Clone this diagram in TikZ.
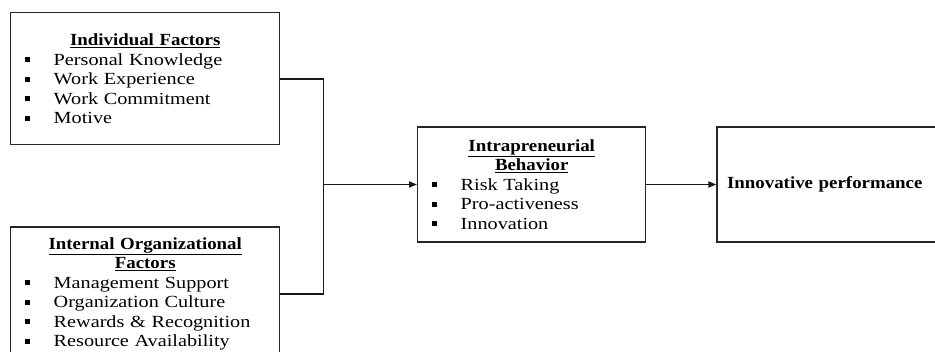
\documentclass[tikz,border=0pt]{standalone}
\usepackage{fontspec}
\setmainfont{Liberation Serif}[FakeStretch=1.19, BoldFeatures={FakeStretch=1.11}]
\usetikzlibrary{arrows.meta, positioning}

\newcommand{\bul}{\raisebox{3pt}{\rule{5pt}{5pt}}}
\newcommand{\itm}[1]{\makebox[\linewidth][l]{\makebox[43pt][l]{\hspace{14pt}\bul}#1}}
\newcommand{\hd}[1]{\underline{\textbf{#1}}}

\begin{document}
\begin{tikzpicture}[x=1pt, y=-1pt,
    box/.style={draw=black!85, line width=1.4pt, inner xsep=0pt, inner ysep=0pt,
                align=center, font=\fontsize{17pt}{19.5pt}\selectfont, text=black},
    line/.style={draw=black!90, line width=1.7pt},
    arr/.style={line, -{Triangle[length=8pt, width=6pt]}}
  ]
  \useasboundingbox (0,0) rectangle (935,351);

  \node[box, anchor=north west, text width=269pt, minimum height=132pt] (indiv) at (10,12)
    {\hd{Individual Factors}\\ \itm{Personal Knowledge}\\ \itm{Work Experience}\\
     \itm{Work Commitment}\\ \itm{Motive}};
  \node[box, below=81pt of indiv, text width=269pt, minimum height=134pt] (orgf)
    {\hd{Internal Organizational}\\ \hd{Factors}\\ \itm{Management Support}\\
     \itm{Organization Culture}\\ \itm{Rewards \& Recognition}\\ \itm{Resource Availability}};
  \node[box, anchor=west, text width=228pt, minimum height=115pt] (behav) at (417,184.5)
    {\hd{Intrapreneurial}\\ \hd{Behavior}\\ \itm{Risk Taking}\\ \itm{Pro-activeness}\\ \itm{Innovation}};
  \node[box, right=70pt of behav, text width=230pt, inner xsep=10pt, align=left,
        minimum height=115pt] (perf) {\textbf{Innovative performance}};

  % joining the two factor boxes
  \path (indiv.east) ++(43,0) coordinate (jt);
  \coordinate (jn) at (jt |- behav.west);
  \draw[line] (indiv.east) -- (jt) |- (orgf.east);
  \draw[arr] (jn) -- (behav.west);
  \draw[arr] (behav) -- (perf);
\end{tikzpicture}
\end{document}
